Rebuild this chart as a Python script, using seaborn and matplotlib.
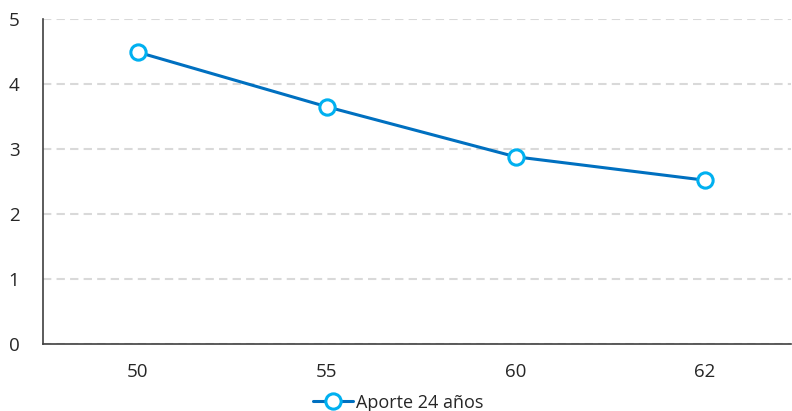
import matplotlib
matplotlib.use("Agg")
import matplotlib.pyplot as plt
import seaborn as sns
import pandas as pd

categories = ["50", "55", "60", "62"]
values = [4.49, 3.65, 2.88, 2.52]
series_name = "Aporte 24 años"

sns.set_theme(style="white")
plt.rcParams['font.family'] = ['Open Sans', 'DejaVu Sans']

df = pd.DataFrame({"edad": categories, "valor": values, "serie": series_name})

fig = plt.figure(figsize=(7.92, 4.11), dpi=100)
ax = fig.add_axes([0.0543, 0.163, 0.945, 0.791])

sns.lineplot(data=df, x="edad", y="valor", hue="serie", palette=["#0070C0"],
             sort=False, linewidth=2.2, marker="o", markersize=11,
             markerfacecolor="white", markeredgecolor="#00B0F0",
             markeredgewidth=2.2, ax=ax)

ax.set_ylim(0, 5)
ax.set_xlim(-0.5, 3.46)
ax.set_yticks([0, 1, 2, 3, 4, 5])
ax.yaxis.grid(True, color="#D9D9D9", linestyle=(0, (4, 2.5)), linewidth=1.5)
ax.set_axisbelow(True)
ax.set_xlabel("")
ax.set_ylabel("")
for s in ["top", "right"]:
    ax.spines[s].set_visible(False)
for s in ["left", "bottom"]:
    ax.spines[s].set_color("#404040")
    ax.spines[s].set_linewidth(1.2)
ax.tick_params(axis="both", length=0, labelsize=13.5, colors="#262626")
ax.tick_params(axis="y", pad=17)
ax.tick_params(axis="x", pad=14)

leg = ax.legend(loc="center", bbox_to_anchor=(0.475, -0.18), frameon=False,
                fontsize=13, handlelength=2.2, handletextpad=0.2)
for t in leg.get_texts():
    t.set_color("#262626")

fig.savefig("out.png", dpi=100)
